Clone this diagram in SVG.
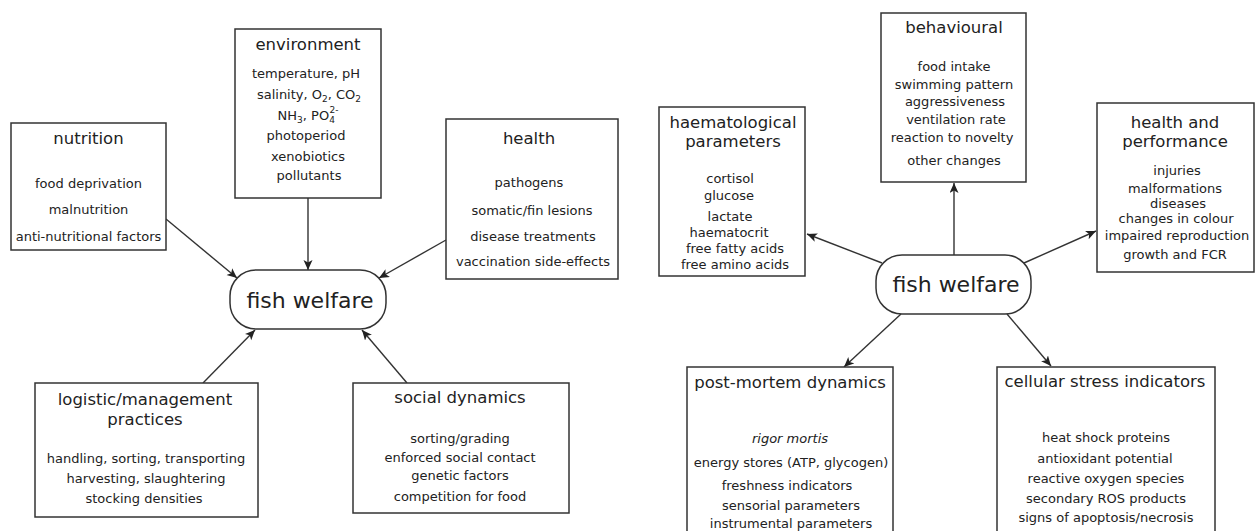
<svg xmlns="http://www.w3.org/2000/svg" width="1257" height="531" viewBox="0 0 1257 531">
<style>
  .box { fill: #ffffff; stroke: #333333; stroke-width: 1.5; }
  .hub { fill: #ffffff; stroke: #333333; stroke-width: 1.5; }
  .t { font-family: "DejaVu Sans", "Liberation Sans", sans-serif; font-size: 16.5px; fill: #222222; text-anchor: middle; }
  .b { font-family: "DejaVu Sans", "Liberation Sans", sans-serif; font-size: 13px; fill: #222222; text-anchor: middle; }
  .h { font-family: "DejaVu Sans", "Liberation Sans", sans-serif; font-size: 22px; fill: #222222; text-anchor: middle; }
  .c { stroke: #333333; stroke-width: 1.4; fill: none; marker-end: url(#arr); }
</style>
<defs>
  <marker id="arr" markerUnits="userSpaceOnUse" markerWidth="12" markerHeight="10" refX="10" refY="4.5" orient="auto">
    <path d="M0,0 L10,4.5 L0,9 L2.5,4.5 z" fill="#222222"/>
  </marker>
</defs>
<rect width="1257" height="531" fill="#ffffff"/>

<g id="connectors">
  <line class="c" x1="166" y1="219" x2="237" y2="278"/>
  <line class="c" x1="308" y1="198" x2="308" y2="270"/>
  <line class="c" x1="446" y1="240" x2="379" y2="278"/>
  <line class="c" x1="203" y1="383" x2="255" y2="330"/>
  <line class="c" x1="407" y1="383" x2="362" y2="330"/>
  <line class="c" x1="882" y1="263" x2="807" y2="234"/>
  <line class="c" x1="954" y1="255" x2="954" y2="183"/>
  <line class="c" x1="1024" y1="263" x2="1096" y2="231"/>
  <line class="c" x1="901" y1="314" x2="844" y2="367"/>
  <line class="c" x1="1007" y1="314" x2="1051" y2="366"/>
</g>

<g id="fish-welfare-left">
  <rect class="hub" x="230" y="270" width="156" height="59" rx="26" ry="26"/>
  <text class="h" x="310" y="308">fish welfare</text>
</g>

<g id="fish-welfare-right">
  <rect class="hub" x="876" y="255" width="155" height="59" rx="26" ry="26"/>
  <text class="h" x="956" y="292">fish welfare</text>
</g>

<g id="nutrition">
  <rect class="box" x="11" y="123" width="155" height="127"/>
  <text class="t" x="88.5" y="144">nutrition</text>
  <text class="b" x="88.5" y="188">food deprivation</text>
  <text class="b" x="88.5" y="214">malnutrition</text>
  <text class="b" x="88.5" y="241">anti-nutritional factors</text>
</g>

<g id="environment">
  <rect class="box" x="235" y="29" width="146" height="169"/>
  <text class="t" x="308" y="50">environment</text>
  <text class="b" x="306" y="78">temperature, pH</text>
  <text class="b" x="309" y="99">salinity, O<tspan font-size="9" dy="3">2</tspan><tspan dy="-3">, CO</tspan><tspan font-size="9" dy="3">2</tspan></text>
  <text class="b" x="308" y="120" text-anchor="middle">NH<tspan font-size="9" dy="3">3</tspan><tspan dy="-3">, PO</tspan><tspan font-size="9" dy="3">4</tspan><tspan font-size="9" dx="-5.5" dy="-10">2-</tspan></text>
  <text class="b" x="306" y="140">photoperiod</text>
  <text class="b" x="308" y="161">xenobiotics</text>
  <text class="b" x="309" y="180">pollutants</text>
</g>

<g id="health">
  <rect class="box" x="446" y="119" width="172" height="160"/>
  <text class="t" x="529" y="144">health</text>
  <text class="b" x="529" y="187">pathogens</text>
  <text class="b" x="532" y="215">somatic/fin lesions</text>
  <text class="b" x="533" y="241">disease treatments</text>
  <text class="b" x="533" y="266">vaccination side-effects</text>
</g>

<g id="logistic-management">
  <rect class="box" x="35" y="383" width="223" height="134"/>
  <text class="t" x="145" y="405">logistic/management</text>
  <text class="t" x="145" y="425">practices</text>
  <text class="b" x="146" y="463">handling, sorting, transporting</text>
  <text class="b" x="146" y="483">harvesting, slaughtering</text>
  <text class="b" x="144" y="503">stocking densities</text>
</g>

<g id="social-dynamics">
  <rect class="box" x="353" y="383" width="216" height="130"/>
  <text class="t" x="460" y="403">social dynamics</text>
  <text class="b" x="460" y="443">sorting/grading</text>
  <text class="b" x="460" y="462">enforced social contact</text>
  <text class="b" x="460" y="480">genetic factors</text>
  <text class="b" x="460" y="501">competition for food</text>
</g>

<g id="haematological-parameters">
  <rect class="box" x="659" y="107" width="146" height="169"/>
  <text class="t" x="733" y="128">haematological</text>
  <text class="t" x="733" y="147">parameters</text>
  <text class="b" x="730" y="183">cortisol</text>
  <text class="b" x="729" y="200">glucose</text>
  <text class="b" x="730" y="221">lactate</text>
  <text class="b" x="729" y="237">haematocrit</text>
  <text class="b" x="735" y="253">free fatty acids</text>
  <text class="b" x="735" y="269">free amino acids</text>
</g>

<g id="behavioural">
  <rect class="box" x="881" y="13" width="145" height="169"/>
  <text class="t" x="954" y="33">behavioural</text>
  <text class="b" x="954" y="71">food intake</text>
  <text class="b" x="954" y="89">swimming pattern</text>
  <text class="b" x="955" y="106">aggressiveness</text>
  <text class="b" x="956" y="124">ventilation rate</text>
  <text class="b" x="952" y="142">reaction to novelty</text>
  <text class="b" x="954" y="165">other changes</text>
</g>

<g id="health-and-performance">
  <rect class="box" x="1097" y="103" width="157" height="169"/>
  <text class="t" x="1175" y="128">health and</text>
  <text class="t" x="1175" y="147">performance</text>
  <text class="b" x="1177" y="175">injuries</text>
  <text class="b" x="1175" y="193">malformations</text>
  <text class="b" x="1178" y="208">diseases</text>
  <text class="b" x="1176" y="223">changes in colour</text>
  <text class="b" x="1177" y="240">impaired reproduction</text>
  <text class="b" x="1175" y="259">growth and FCR</text>
</g>

<g id="post-mortem-dynamics">
  <rect class="box" x="687" y="367" width="206" height="180"/>
  <text class="t" x="790" y="388">post-mortem dynamics</text>
  <text class="b" x="790" y="443" font-style="italic">rigor mortis</text>
  <text class="b" x="791" y="467">energy stores (ATP, glycogen)</text>
  <text class="b" x="787" y="490">freshness indicators</text>
  <text class="b" x="791" y="510">sensorial parameters</text>
  <text class="b" x="791" y="528">instrumental parameters</text>
</g>

<g id="cellular-stress-indicators">
  <rect class="box" x="997" y="367" width="218" height="180"/>
  <text class="t" x="1105" y="387">cellular stress indicators</text>
  <text class="b" x="1106" y="442">heat shock proteins</text>
  <text class="b" x="1105" y="463">antioxidant potential</text>
  <text class="b" x="1106" y="483">reactive oxygen species</text>
  <text class="b" x="1106" y="503">secondary ROS products</text>
  <text class="b" x="1106" y="522">signs of apoptosis/necrosis</text>
</g>
</svg>
